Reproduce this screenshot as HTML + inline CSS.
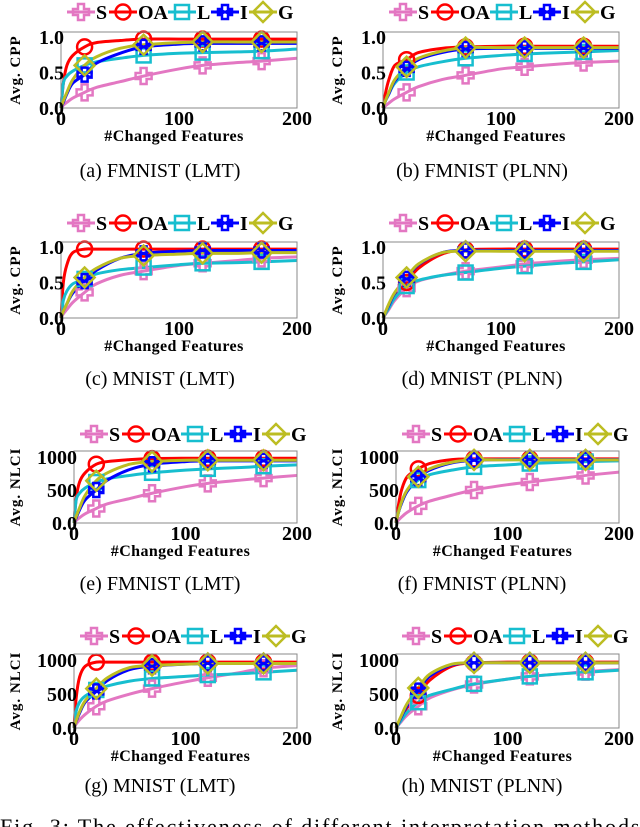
<!DOCTYPE html>
<html><head><meta charset="utf-8"><style>
html,body{margin:0;padding:0;background:#fff;}
svg{display:block;font-family:"Liberation Serif",serif;}
</style></head><body>
<svg id="fig" width="640" height="827" viewBox="0 0 640 827" xmlns="http://www.w3.org/2000/svg"></svg>
<script>
const xs = [0,2,5,10,20,30,50,70,100,120,150,170,200];
const markerX = [20,70,120,170];
const seriesNames = ["S","OA","L","I","G"];
// panel a
const aS=[0,0.04,0.08,0.14,0.22,0.29,0.37,0.45,0.55,0.6,0.64,0.66,0.7];
const aOA=[0,0.35,0.6,0.74,0.86,0.92,0.95,0.97,0.97,0.97,0.97,0.97,0.97];
const aL=[0,0.35,0.45,0.52,0.6,0.65,0.7,0.74,0.77,0.78,0.79,0.8,0.83];
const aI=[0,0.08,0.2,0.35,0.47,0.63,0.77,0.86,0.9,0.91,0.91,0.91,0.91];
const aG=[0,0.1,0.22,0.4,0.6,0.72,0.84,0.89,0.92,0.93,0.93,0.93,0.93];
// panel b
const bS=[0,0.03,0.07,0.13,0.22,0.3,0.4,0.46,0.55,0.58,0.62,0.64,0.66];
const bOA=[0,0.2,0.4,0.6,0.68,0.78,0.84,0.86,0.87,0.87,0.87,0.87,0.87];
const bL=[0,0.1,0.2,0.35,0.5,0.58,0.65,0.7,0.74,0.76,0.78,0.79,0.81];
const bI=[0,0.1,0.2,0.38,0.55,0.68,0.78,0.83,0.84,0.84,0.84,0.84,0.84];
const bG=[0,0.1,0.22,0.4,0.58,0.7,0.8,0.85,0.85,0.85,0.85,0.85,0.85];
// panel c
const cS=[0,0.06,0.12,0.22,0.36,0.48,0.6,0.66,0.74,0.77,0.81,0.84,0.86];
const cOA=[0,0.5,0.75,0.92,0.97,0.97,0.97,0.97,0.97,0.97,0.97,0.97,0.97];
const cL=[0,0.25,0.38,0.48,0.55,0.62,0.68,0.71,0.75,0.77,0.78,0.79,0.81];
const cI=[0,0.1,0.2,0.35,0.52,0.67,0.84,0.91,0.94,0.95,0.95,0.95,0.95];
const cG=[0,0.1,0.2,0.38,0.57,0.7,0.84,0.88,0.9,0.91,0.91,0.92,0.92];
// panel d
const dS=[0,0.05,0.12,0.25,0.42,0.52,0.6,0.66,0.72,0.76,0.8,0.82,0.84];
const dOA=[0,0.06,0.15,0.3,0.5,0.7,0.9,0.96,0.97,0.97,0.97,0.97,0.97];
const dL=[0,0.06,0.14,0.28,0.45,0.53,0.6,0.64,0.7,0.73,0.77,0.79,0.82];
const dI=[0,0.08,0.18,0.35,0.55,0.75,0.92,0.95,0.95,0.95,0.95,0.95,0.95];
const dG=[0,0.08,0.2,0.36,0.57,0.76,0.92,0.94,0.94,0.94,0.94,0.94,0.94];
// panel e
const eS=[0,40,80,140,220,290,370,450,550,600,650,680,720];
const eOA=[0,380,620,760,890,930,960,975,980,980,980,980,980];
const eL=[0,350,450,530,620,670,720,760,800,820,840,860,880];
const eI=[0,80,200,350,500,650,810,890,930,940,940,940,940];
const eG=[0,100,230,420,640,760,890,930,950,950,950,950,950];
// panel f
const fS=[0,40,90,160,260,330,420,500,580,620,680,720,770];
const fOA=[0,250,500,700,820,900,960,970,970,970,970,970,970];
const fL=[0,150,300,480,650,730,800,850,880,900,920,930,940];
const fI=[0,150,300,480,680,800,910,950,960,960,960,960,960];
const fG=[0,150,320,500,700,820,920,955,955,955,955,955,955];
// panel g
const gS=[0,60,120,200,320,400,500,580,680,740,820,880,920];
const gOA=[0,450,750,910,970,970,970,970,970,970,970,970,970];
const gL=[0,250,380,470,560,620,690,730,760,780,800,820,850];
const gI=[0,100,220,380,540,700,860,910,940,950,950,950,950];
const gG=[0,110,240,400,580,740,890,920,940,950,950,950,950];
// panel h
const hS=[0,40,100,190,320,440,560,640,720,760,800,830,860];
const hOA=[0,60,150,300,480,700,910,960,970,970,970,970,970];
const hL=[0,50,120,230,380,480,570,650,720,760,800,820,850];
const hI=[0,70,170,330,550,760,930,960,960,960,960,960,960];
const hG=[0,80,190,360,590,790,940,960,960,960,960,960,960];

const colors={S:"#e377c2",OA:"#ff0000",L:"#17becf",I:"#0000ff",G:"#bcbd22"};
const NS="http://www.w3.org/2000/svg";
const svg=document.getElementById("fig");
function el(tag,attrs,parent){const e=document.createElementNS(NS,tag);for(const k in attrs)e.setAttribute(k,attrs[k]);(parent||svg).appendChild(e);return e;}

function marker(g,name,cx,cy){
  const c=colors[name];const st={fill:"none",stroke:c,"stroke-width":2.5};
  let m;
  if(name==="S"){m=el("path",Object.assign({d:`M${cx-3},${cy-8}h6v5h5v6h-5v5h-6v-5h-5v-6h5z`},st),g);}
  else if(name==="OA"){m=el("circle",Object.assign({cx:cx,cy:cy,r:7.5},st),g);}
  else if(name==="L"){m=el("rect",Object.assign({x:cx-7,y:cy-7,width:14,height:14},st),g);}
  else if(name==="I"){m=el("path",Object.assign({d:`M${cx-3},${cy-7}h6v4h4v6h-4v4h-6v-4h-4v-6h4z M${cx-7},${cy-3}L${cx+7},${cy+3} M${cx-7},${cy+3}L${cx+7},${cy-3}`},st),g);}
  else {m=el("path",Object.assign({d:`M${cx},${cy-10}L${cx+10},${cy}L${cx},${cy+10}L${cx-10},${cy}Z`},st),g);}
  
  
}

const panels=[
 {id:"a",col:0,x0:61,x1:297,yt:32,yb:108,ymax:1.07,ticks:[0,0.5,1.0],tl:["0.0","0.5","1.0"],yl:"Avg. CPP",data:[aS,aOA,aL,aI,aG],cap:"(a) FMNIST (LMT)",leg:12,capY:170,lx:67},
 {id:"b",col:1,x0:383,x1:619,yt:32,yb:108,ymax:1.07,ticks:[0,0.5,1.0],tl:["0.0","0.5","1.0"],yl:"Avg. CPP",data:[bS,bOA,bL,bI,bG],cap:"(b) FMNIST (PLNN)",leg:12,capY:170,lx:389},
 {id:"c",col:0,x0:61,x1:297,yt:242,yb:318,ymax:1.07,ticks:[0,0.5,1.0],tl:["0.0","0.5","1.0"],yl:"Avg. CPP",data:[cS,cOA,cL,cI,cG],cap:"(c) MNIST (LMT)",leg:223,capY:378,lx:67},
 {id:"d",col:1,x0:383,x1:619,yt:242,yb:318,ymax:1.07,ticks:[0,0.5,1.0],tl:["0.0","0.5","1.0"],yl:"Avg. CPP",data:[dS,dOA,dL,dI,dG],cap:"(d) MNIST (PLNN)",leg:223,capY:378,lx:389},
 {id:"e",col:0,x0:74,x1:297,yt:451,yb:523,ymax:1090,ticks:[0,500,1000],tl:["0.0","500","1000"],yl:"Avg. NLCI",data:[eS,eOA,eL,eI,eG],cap:"(e) FMNIST (LMT)",leg:434,capY:583,lx:80},
 {id:"f",col:1,x0:396,x1:619,yt:451,yb:523,ymax:1090,ticks:[0,500,1000],tl:["0.0","500","1000"],yl:"Avg. NLCI",data:[fS,fOA,fL,fI,fG],cap:"(f) FMNIST (PLNN)",leg:434,capY:583,lx:402},
 {id:"g",col:0,x0:74,x1:297,yt:654,yb:728,ymax:1090,ticks:[0,500,1000],tl:["0.0","500","1000"],yl:"Avg. NLCI",data:[gS,gOA,gL,gI,gG],cap:"(g) MNIST (LMT)",leg:636,capY:785,lx:80},
 {id:"h",col:1,x0:396,x1:619,yt:654,yb:728,ymax:1090,ticks:[0,500,1000],tl:["0.0","500","1000"],yl:"Avg. NLCI",data:[hS,hOA,hL,hI,hG],cap:"(h) MNIST (PLNN)",leg:636,capY:785,lx:402}
];

function smooth(pts){
  let d=`M${pts[0][0]},${pts[0][1]}`;
  for(let i=0;i<pts.length-1;i++){
    const p0=pts[Math.max(i-1,0)],p1=pts[i],p2=pts[i+1],p3=pts[Math.min(i+2,pts.length-1)];
    const c1x=p1[0]+(p2[0]-p0[0])/6,c1y=p1[1]+(p2[1]-p0[1])/6;
    const c2x=p2[0]-(p3[0]-p1[0])/6,c2y=p2[1]-(p3[1]-p1[1])/6;
    d+=` C${c1x},${c1y} ${c2x},${c2y} ${p2[0]},${p2[1]}`;
  }
  return d;
}

const labelW={S:12,OA:29,L:13,I:8,G:15};
panels.forEach(p=>{
  const g=el("g",{});
  
  
  const X=v=>p.x0+(p.x1-p.x0)*v/200;
  const Y=v=>p.yb-(p.yb-p.yt)*v/p.ymax;
  function interp(arr,x){for(let i=0;i<xs.length-1;i++){if(x>=xs[i]&&x<=xs[i+1]){const t=(x-xs[i])/(xs[i+1]-xs[i]);return arr[i]+t*(arr[i+1]-arr[i]);}}return arr[arr.length-1];}
  const lg=el("g",{},g);
  
  
  let lx=p.lx;
  seriesNames.forEach(n=>{
    const w=28;
    const ln=el("line",{x1:lx,y1:p.leg,x2:lx+w,y2:p.leg,stroke:colors[n],"stroke-width":3},lg);
    
    
    marker(lg,n,lx+w/2,p.leg);
    const t=el("text",{x:lx+w+1,y:p.leg+7,"font-size":20,"font-weight":"bold",fill:"#000"},lg);
    t.textContent=n;
    
    
    lx+=w+2+labelW[n];
  });
  p.data.forEach((arr,si)=>{
    const n=seriesNames[si];
    const pts=xs.map((x,i)=>[X(x),Y(arr[i])]);
    const path=el("path",{d:smooth(pts),fill:"none",stroke:colors[n],"stroke-width":3,"stroke-linejoin":"round"},g);
    
    
  });
  p.data.forEach((arr,si)=>{
    const n=seriesNames[si];
    markerX.forEach(mx=>marker(g,n,X(mx),Y(interp(arr,mx))));
  });
  const fr=el("rect",{x:p.x0,y:p.yt,width:p.x1-p.x0,height:p.yb-p.yt,fill:"none",stroke:"#888","stroke-width":1},g);
  
  
  p.ticks.forEach((v,i)=>{
    const t=el("text",{x:p.x0+3,y:Y(v)+7,"font-size":20,"font-weight":"bold","text-anchor":"end"},g);
    t.textContent=p.tl[i];
    
    
  });
  [0,100,200].forEach(v=>{
    const t=el("text",{x:X(v),y:p.yb+17,"font-size":20,"font-weight":"bold","text-anchor":"middle"},g);
    t.textContent=String(v);
    
    
  });
  const xl=el("text",{x:(p.x0+p.x1)/2-5,y:p.yb+33,"font-size":16,"font-weight":"bold","text-anchor":"middle","letter-spacing":"0.4"},g);
  xl.textContent="#Changed Features";
  
  
  const yx=p.col===0?20:342, ym=(p.yt+p.yb)/2;
  const yl=el("text",{x:yx,y:ym,"font-size":15,"font-weight":"bold","text-anchor":"middle",transform:`rotate(-90 ${yx} ${ym})`,"letter-spacing":"1"},g);
  yl.textContent=p.yl;
  
  
  const cap=el("text",{x:p.col===0?160:482,y:p.capY+7,"font-size":20,"text-anchor":"middle"},g);
  cap.textContent=p.cap;
  
  
});
const fc=el("text",{x:0,y:834,"font-size":22,"letter-spacing":"1.9"});
fc.textContent="Fig. 3: The effectiveness of different interpretation methods";


</script>
</body></html>
